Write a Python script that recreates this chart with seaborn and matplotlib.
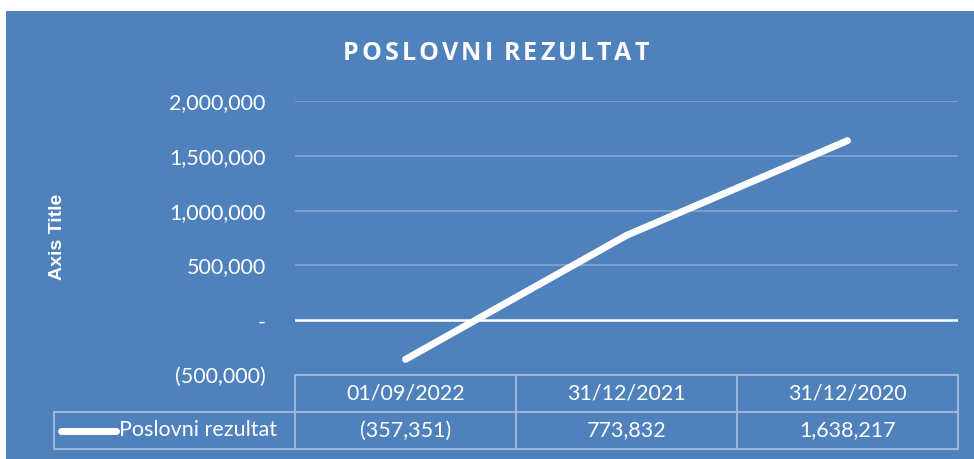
import pandas as pd
import matplotlib.pyplot as plt
import matplotlib.transforms as mtransforms
from matplotlib.patches import Rectangle
from matplotlib.ticker import FuncFormatter
import seaborn as sns

# --- Data ---
title = 'POSLOVNI REZULTAT'
series_name = 'Poslovni rezultat'
dates = ['01/09/2022', '31/12/2021', '31/12/2020']
values = [-357351, 773832, 1638217]
y_ticks = [-500000, 0, 500000, 1000000, 1500000, 2000000]

BLUE = '#4F81BD'
GRID = '#85A5D3'
BORDER = '#9BB7DE'
FONT = 'Lato'
FS = 15.5

df = pd.DataFrame({'Datum': dates, 'Vrijednost': values})


def fmt_number(v, pos=None):
    if v == 0:
        return '-'
    if v < 0:
        return f'({abs(v):,.0f})'
    return f'{v:,.0f}'


sns.set_style('white')
plt.rcParams['font.family'] = [FONT, 'DejaVu Sans']

fig = plt.figure(figsize=(9.74, 4.59), dpi=100, facecolor='white')
# blue chart area (white strip on top / left like the screenshot)
bg = Rectangle((6 / 974, 0), 1, 1 - 11 / 459, transform=fig.transFigure,
               facecolor=BLUE, edgecolor='none', zorder=-5)
fig.add_artist(bg)

ax = fig.add_axes([295 / 974, 1 - 375 / 459, 663 / 974, 274 / 459])
ax.set_facecolor('none')
ax.set_zorder(2)

# gridlines (not at 0, that one is drawn white)
for t in y_ticks:
    if t > 0:
        ax.axhline(t, color=GRID, lw=1.2, zorder=1)
ax.axhline(0, color='white', lw=1.8, zorder=2)

sns.lineplot(data=df, x='Datum', y='Vrijednost', sort=False, ax=ax, color='white',
             lw=5, solid_capstyle='round', zorder=3)

ax.set_xlim(-0.5, len(dates) - 0.5)
ax.set_ylim(min(y_ticks), max(y_ticks))
ax.set_yticks(y_ticks)
ax.yaxis.set_major_formatter(FuncFormatter(fmt_number))
ax.tick_params(axis='y', length=0, pad=21, labelsize=FS, labelcolor='white')
ax.set_xticks([])
ax.set_xlabel('')
ax.set_ylabel('')
for s in ax.spines.values():
    s.set_visible(False)

# --- data table under the plot ---
tr = mtransforms.blended_transform_factory(ax.transData, ax.transAxes)
row_h = 37 / 274
left_edge = -0.5 - (295 - 54) / 221
right_edge = len(dates) - 0.5
line_kw = dict(color=BORDER, lw=1.5, transform=tr, clip_on=False, zorder=2)

ax.plot([-0.5, right_edge], [0, 0], **line_kw)
ax.plot([left_edge, right_edge], [-row_h, -row_h], **line_kw)
ax.plot([left_edge, right_edge], [-2 * row_h, -2 * row_h], **line_kw)
ax.plot([left_edge, left_edge], [-row_h, -2 * row_h], **line_kw)
for i in range(len(dates) + 1):
    ax.plot([i - 0.5, i - 0.5], [0, -2 * row_h], **line_kw)

for i, (d, v) in enumerate(zip(dates, values)):
    ax.text(i, -0.5 * row_h, d, transform=tr, ha='center', va='center',
            color='white', fontsize=FS)
    ax.text(i, -1.5 * row_h, fmt_number(v), transform=tr, ha='center', va='center',
            color='white', fontsize=FS)

# legend key inside the table row
ax.plot([-0.5 - (295 - 61) / 221, -0.5 - (295 - 116) / 221], [-1.5 * row_h] * 2,
        color='white', lw=5, solid_capstyle='round', transform=tr, clip_on=False)
ax.text(-0.5 - (295 - 119) / 221, -1.5 * row_h, series_name, transform=tr,
        ha='left', va='center', color='white', fontsize=FS)

# title with letter spacing (drawn char by char)
renderer = fig.canvas.get_renderer()
title_kw = dict(color='white', fontsize=18, fontweight='bold',
                family=['Open Sans', 'DejaVu Sans'], va='center', ha='left')
spacing = 3.0  # px between letters
widths = []
for ch in title:
    t = fig.text(0, 0, ch if ch != ' ' else 'I', **title_kw)
    w = t.get_window_extent(renderer).width
    widths.append(w * 0.6 if ch == ' ' else w)
    t.remove()
total = sum(widths) + spacing * (len(title) - 1)
x = 496 - total / 2
for ch, w in zip(title, widths):
    if ch != ' ':
        fig.text(x / 974, 1 - 53 / 459, ch, **title_kw)
    x += w + spacing

fig.text(58 / 974, 1 - 237 / 459, 'Axis Title', ha='center', va='center', color='white',
         rotation=90, fontsize=14, fontweight='bold',
         family=['Liberation Sans', 'DejaVu Sans'])

fig.savefig('out.png', dpi=100, facecolor=fig.get_facecolor())
